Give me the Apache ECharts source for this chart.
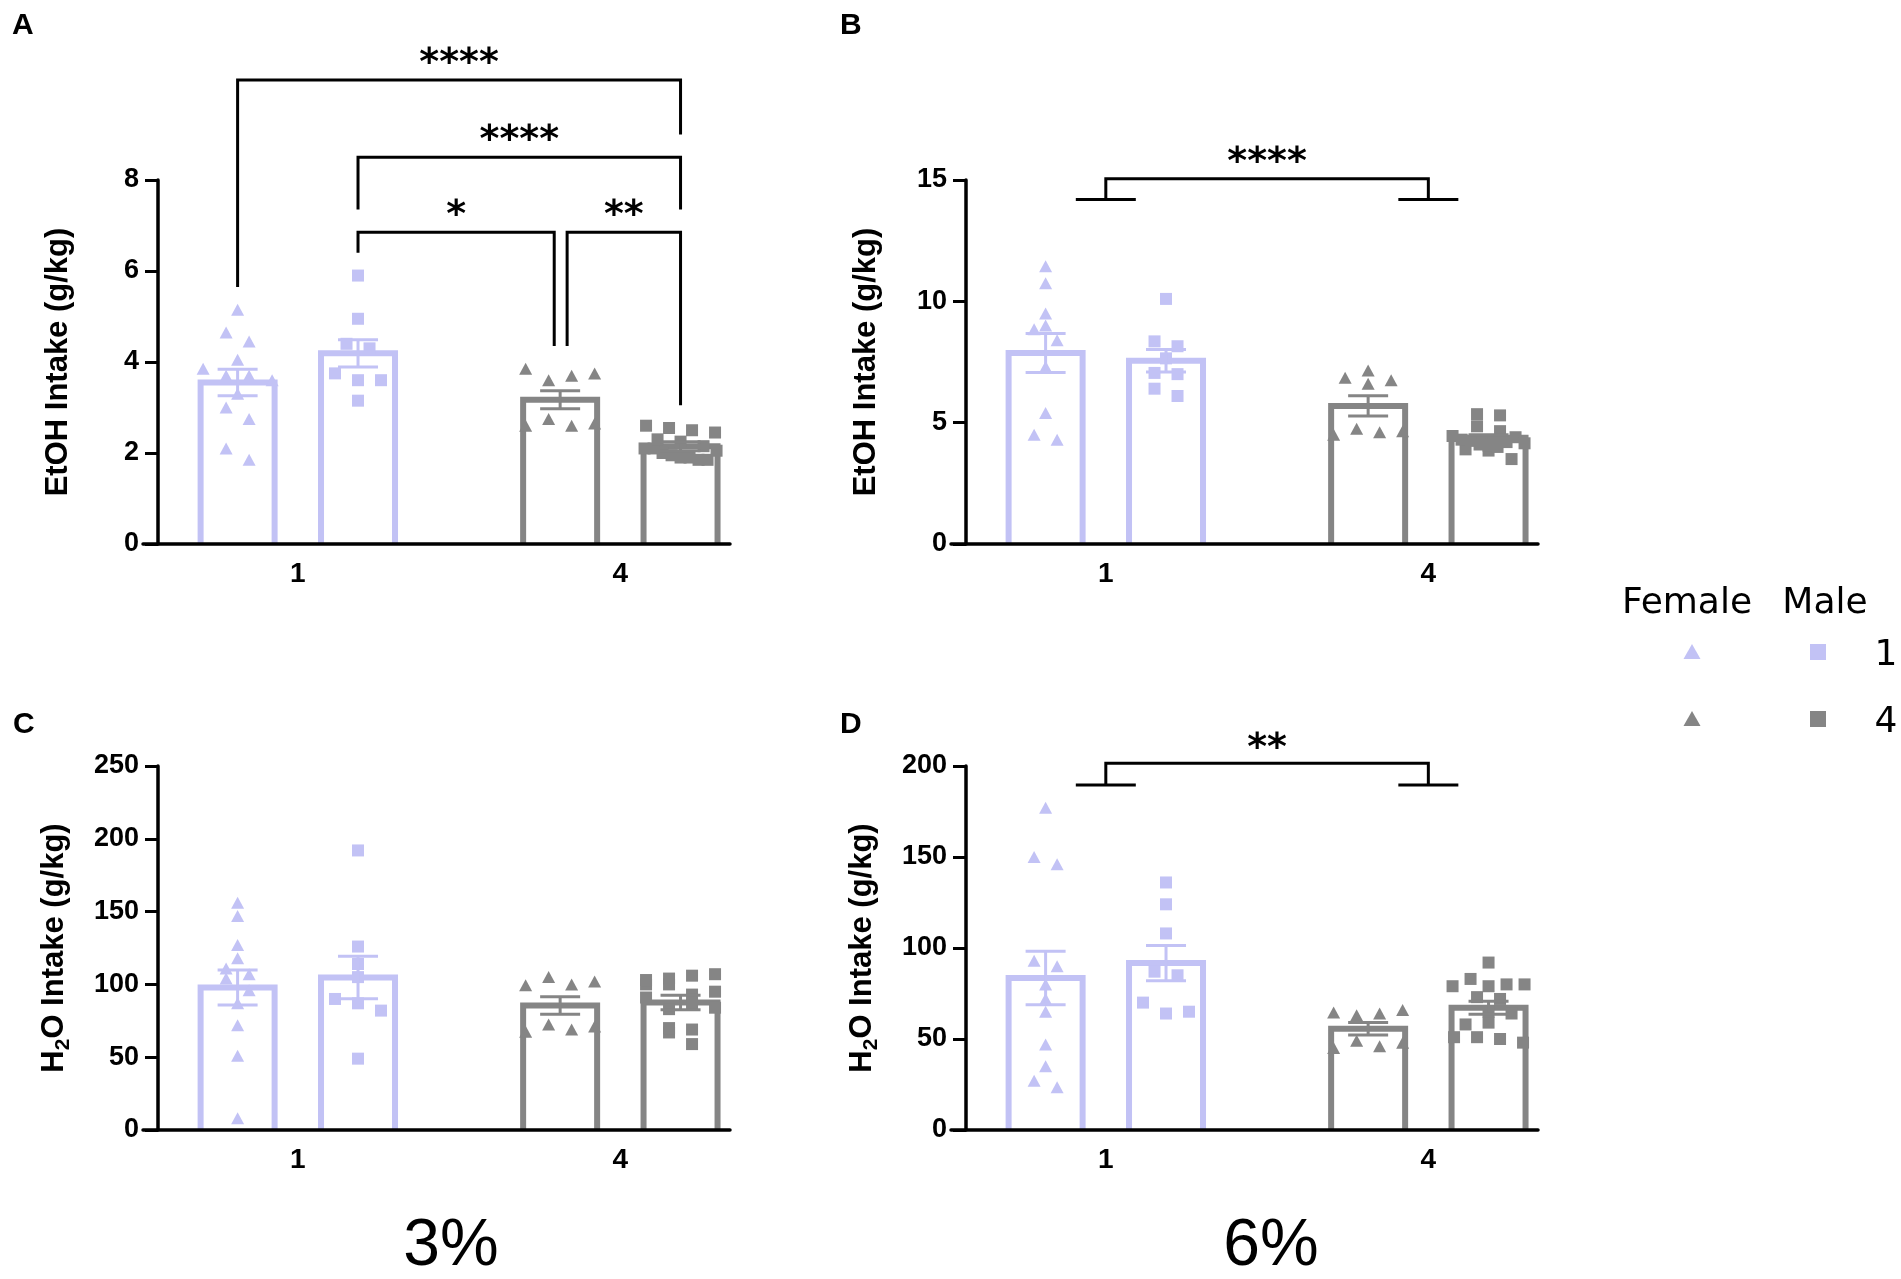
<!DOCTYPE html>
<html>
<head>
<meta charset="utf-8">
<script src="https://cdn.jsdelivr.net/npm/echarts@6/dist/echarts.min.js"></script>
<style>
html, body { margin: 0; padding: 0; background: #fff; }
#chart { width: 1901px; height: 1279px; }
</style>
</head>
<body>
<div id="chart"></div>
<script>
// categories
var weeks = [1, 4];
var sexes = ['Female', 'Male'];
var concentrations = ['3%', '6%'];
var panelLetters = ['A', 'B', 'C', 'D'];

// A: EtOH intake, 3%  (groups: female 1, male 1, female 4, male 4)
var a_f1 = [5.15, 4.65, 4.45, 4.05, 3.85, 3.7, 3.7, 3.6, 3.3, 3.0, 2.75, 2.1, 1.85];
var a_m1 = [5.9, 4.95, 4.4, 4.3, 3.75, 3.6, 3.6, 3.15];
var a_f4 = [3.85, 3.6, 3.7, 3.75, 2.6, 2.75, 2.6, 2.65];
var a_m4 = [2.6, 2.55, 2.5, 2.45, 2.3, 2.25, 2.15, 2.1, 2.1, 2.0, 1.95, 1.9, 1.9, 1.85, 1.85, 2.05];
var a_mean = [3.55, 4.19, 3.17, 2.15];
var a_sem = [0.29, 0.3, 0.2, 0.1];

// B: EtOH intake, 6%
var b_f1 = [11.45, 10.75, 9.5, 9.0, 8.85, 8.4, 7.3, 5.4, 4.5, 4.3];
var b_m1 = [10.1, 8.35, 8.15, 7.65, 7.05, 7.0, 6.4, 6.1];
var b_f4 = [6.85, 7.15, 6.6, 6.75, 4.5, 4.75, 4.6, 4.65];
var b_m4 = [5.35, 5.3, 4.85, 4.65, 4.45, 4.3, 4.25, 4.1, 4.05, 4.0, 3.9, 3.85, 3.5, 4.2, 4.4, 4.15];
var b_mean = [7.87, 7.55, 5.69, 4.38];
var b_sem = [0.8, 0.46, 0.42, 0.12];

// C: H2O intake, 3%
var c_f1 = [156, 147, 127, 118, 111, 107, 104, 96, 87, 72, 51, 8];
var c_m1 = [192, 126, 114, 105, 90, 87, 82, 49];
var c_f4 = [99.5, 105, 100, 102, 67.5, 72.5, 69, 71];
var c_m4 = [100, 103, 104, 106, 107, 100, 93, 91, 95, 83, 86, 84, 70, 69, 67, 59];
var c_mean = [97.9, 104.7, 85.5, 87.6];
var c_sem = [12, 14.6, 6, 5];

// D: H2O intake, 6%
var d_f1 = [177, 150, 146, 93, 90, 80, 72, 65, 47, 35, 27, 23.5];
var d_m1 = [136, 124, 108, 87, 85, 70, 64, 65];
var d_f4 = [64.5, 63, 64, 66, 45, 49, 46, 48];
var d_m4 = [92, 79, 83, 79, 80, 80, 73, 72, 65, 58, 51, 51, 50, 48, 59, 64];
var d_mean = [83.5, 91.7, 55.6, 67.2];
var d_sem = [14.7, 9.7, 3.4, 3.6];

// significance brackets: [x1, x2, yTop, yLeftEnd, yRightEnd, yText, kind]
var a_brackets = [
    [0.44, 4.56, 10.2, 5.65, 9.0, 10.75, 0],
    [1.56, 4.56, 8.5, 7.35, 7.35, 9.05, 0],
    [1.56, 3.385, 6.85, 6.4, 4.35, 7.4, 0],
    [3.505, 4.56, 6.85, 4.35, 3.05, 7.4, 0]
];
var a_stars = ['****', '****', '*', '**'];
var b_brackets = [[1, 4, 15.05, 14.2, 14.2, 16.05, 1]];
var b_stars = ['****'];
var c_brackets = [];
var c_stars = [];
var d_brackets = [[1, 4, 201.5, 189.5, 189.5, 214, 1]];
var d_stars = ['**'];

var LAV = '#c2c2f5';
var GRAY = '#858585';
var FONT = '"Liberation Sans", Arial, sans-serif';
var groupColor = [LAV, LAV, GRAY, GRAY];
var groupSymbol = ['triangle', 'rect', 'triangle', 'rect'];
var BAR_SHIFT = 0.56;
var groupX = [weeks[0] - BAR_SHIFT, weeks[0] + BAR_SHIFT, weeks[1] - BAR_SHIFT, weeks[1] + BAR_SHIFT];

var X_MIN = -0.44, X_MAX = 5.02;
var GRID_W = 587, GRID_H = 364;
var PX_X = GRID_W / (X_MAX - X_MIN);
var BAR_HALF = 37;
var CAP_HALF = 20;

var etohName = 'EtOH Intake (g/kg)';
var waterName = '{n|H}{s|2}{n|O Intake (g/kg)}';

var panels = [
    {left: 143, top: 180, yMax: 8, yInt: 2, name: etohName, pts: [a_f1, a_m1, a_f4, a_m4], mean: a_mean, sem: a_sem, br: a_brackets, stars: a_stars},
    {left: 951, top: 180, yMax: 15, yInt: 5, name: etohName, pts: [b_f1, b_m1, b_f4, b_m4], mean: b_mean, sem: b_sem, br: b_brackets, stars: b_stars},
    {left: 143, top: 766, yMax: 250, yInt: 50, name: waterName, pts: [c_f1, c_m1, c_f4, c_m4], mean: c_mean, sem: c_sem, br: c_brackets, stars: c_stars},
    {left: 951, top: 766, yMax: 200, yInt: 50, name: waterName, pts: [d_f1, d_m1, d_f4, d_m4], mean: d_mean, sem: d_sem, br: d_brackets, stars: d_stars}
];

// spread points sideways in rows, like a column scatter
function swarm(values, yMax, xCenter) {
    var pxY = GRID_H / yMax;
    var order = values.map(function (v, i) { return i; })
        .sort(function (a, b) { return values[a] - values[b]; });
    var rows = [], cur = null;
    order.forEach(function (i) {
        var py = values[i] * pxY;
        if (!cur || py - cur.start > 12) {
            cur = {start: py, items: []};
            rows.push(cur);
        }
        cur.items.push(i);
    });
    var out = [];
    rows.forEach(function (r) {
        var items = r.items.slice().sort(function (a, b) { return a - b; });
        var n = items.length;
        var step = n > 1 ? Math.min(23, 72 / (n - 1)) : 0;
        items.forEach(function (i, k) {
            var dx = (k - (n - 1) / 2) * step;
            out.push([xCenter + dx / PX_X, values[i]]);
        });
    });
    return out;
}

function renderBar(params, api) {
    var x = api.value(0), m = api.value(1), g = api.value(2);
    var top = api.coord([x, m]);
    var base = api.coord([x, 0]);
    return {
        type: 'polyline',
        shape: {points: [[top[0] - BAR_HALF, base[1]], [top[0] - BAR_HALF, top[1]],
                         [top[0] + BAR_HALF, top[1]], [top[0] + BAR_HALF, base[1]]]},
        style: {stroke: groupColor[g], lineWidth: 6, lineJoin: 'miter', fill: null}
    };
}

function renderError(params, api) {
    var x = api.value(0), m = api.value(1), s = api.value(2), g = api.value(3);
    var hi = api.coord([x, m + s]);
    var lo = api.coord([x, m - s]);
    var st = {stroke: groupColor[g], lineWidth: 3};
    return {
        type: 'group',
        children: [
            {type: 'line', shape: {x1: hi[0], y1: hi[1], x2: lo[0], y2: lo[1]}, style: st},
            {type: 'line', shape: {x1: hi[0] - CAP_HALF, y1: hi[1], x2: hi[0] + CAP_HALF, y2: hi[1]}, style: st},
            {type: 'line', shape: {x1: lo[0] - CAP_HALF, y1: lo[1], x2: lo[0] + CAP_HALF, y2: lo[1]}, style: st}
        ]
    };
}

function makeBracketRenderer(stars) {
    return function (params, api) {
        var x1 = api.value(0), x2 = api.value(1), yTop = api.value(2);
        var yL = api.value(3), yR = api.value(4), yT = api.value(5), kind = api.value(6);
        var pL = api.coord([x1, yL]), pTL = api.coord([x1, yTop]);
        var pTR = api.coord([x2, yTop]), pR = api.coord([x2, yR]);
        var pT = api.coord([(x1 + x2) / 2, yT]);
        var st = {stroke: '#000', lineWidth: 3, fill: null, lineJoin: 'miter'};
        var children = [
            {type: 'polyline', shape: {points: [pL, pTL, pTR, pR]}, style: st}
        ];
        if (kind === 1) {
            children.push({type: 'line', shape: {x1: pL[0] - 30, y1: pL[1], x2: pL[0] + 30, y2: pL[1]}, style: st});
            children.push({type: 'line', shape: {x1: pR[0] - 30, y1: pR[1], x2: pR[0] + 30, y2: pR[1]}, style: st});
        }
        children.push({
            type: 'text', x: pT[0], y: pT[1] + 9,
            style: {text: stars[params.dataIndex], fontSize: 38, fontWeight: 'bold',
                    fontFamily: '"DejaVu Sans"', fill: '#000', align: 'center', verticalAlign: 'middle'}
        });
        return {type: 'group', children: children};
    };
}

var grids = [], xAxes = [], yAxes = [], series = [];
panels.forEach(function (p, i) {
    grids.push({left: p.left, top: p.top, width: GRID_W, height: GRID_H});
    xAxes.push({
        type: 'value', gridIndex: i, min: X_MIN, max: X_MAX, z: 10,
        axisLine: {onZero: false, lineStyle: {color: '#000', width: 3.5}},
        axisTick: {show: false},
        splitLine: {show: false},
        axisLabel: {customValues: weeks, formatter: function (v) { return String(v); },
                    color: '#000', fontSize: 28, fontWeight: 'bold', fontFamily: FONT, margin: 16}
    });
    yAxes.push({
        type: 'value', gridIndex: i, min: 0, max: p.yMax, interval: p.yInt, offset: -15, z: 10,
        axisLine: {show: true, onZero: false, lineStyle: {color: '#000', width: 3.5}},
        axisTick: {show: true, length: 13, lineStyle: {color: '#000', width: 3}},
        splitLine: {show: false},
        axisLabel: {color: '#000', fontSize: 27, fontWeight: 'bold', fontFamily: FONT, margin: 19},
        name: p.name, nameLocation: 'middle', nameGap: 84,
        nameTextStyle: {
            color: '#000', fontSize: 31, fontWeight: 'bold', fontFamily: FONT,
            rich: {
                n: {fontSize: 31, fontWeight: 'bold', fontFamily: FONT, color: '#000', lineHeight: 40, verticalAlign: 'middle'},
                s: {fontSize: 21, fontWeight: 'bold', fontFamily: FONT, color: '#000', lineHeight: 40, verticalAlign: 'bottom'}
            }
        }
    });
    series.push({
        type: 'custom', xAxisIndex: i, yAxisIndex: i, z: 2, silent: true,
        encode: {x: 0, y: 1}, renderItem: renderBar,
        data: p.mean.map(function (m, g) { return [groupX[g], m, g]; })
    });
    p.pts.forEach(function (vals, g) {
        series.push({
            type: 'scatter', xAxisIndex: i, yAxisIndex: i, z: 3, silent: true,
            symbol: groupSymbol[g], symbolSize: g % 2 ? 12 : [13, 12],
            itemStyle: {color: groupColor[g], opacity: 1},
            data: swarm(vals, p.yMax, groupX[g])
        });
    });
    series.push({
        type: 'custom', xAxisIndex: i, yAxisIndex: i, z: 4, silent: true,
        encode: {x: 0, y: 1}, renderItem: renderError,
        data: p.mean.map(function (m, g) { return [groupX[g], m, p.sem[g], g]; })
    });
    if (p.br.length) {
        series.push({
            type: 'custom', xAxisIndex: i, yAxisIndex: i, z: 5, silent: true, clip: false,
            encode: {x: 0, y: 2}, renderItem: makeBracketRenderer(p.stars),
            data: p.br
        });
    }
});

// panel letters, concentration labels, legend
var graphics = [];
var letterPos = [[12, 26], [840, 26], [13, 725], [840, 725]];
panelLetters.forEach(function (t, i) {
    graphics.push({type: 'text', x: letterPos[i][0], y: letterPos[i][1],
        style: {text: t, fontSize: 30, fontWeight: 'bold', fontFamily: FONT, fill: '#000', align: 'left', verticalAlign: 'middle'}});
});
var concX = [451, 1271];
concentrations.forEach(function (t, i) {
    graphics.push({type: 'text', x: concX[i], y: 1247,
        style: {text: t, fontSize: 66, fontFamily: FONT, fill: '#000', align: 'center', verticalAlign: 'middle'}});
});
var legColX = [1692, 1818], legHeadX = [1687, 1825], legRowY = [652, 719];
sexes.forEach(function (s, c) {
    graphics.push({type: 'text', x: legHeadX[c], y: 604,
        style: {text: s, fontSize: 36, fontFamily: '"DejaVu Sans"', fill: '#000', align: 'center', verticalAlign: 'middle'}});
});
weeks.forEach(function (w, r) {
    var col = r === 0 ? LAV : GRAY;
    var cy = legRowY[r];
    graphics.push({type: 'polygon', shape: {points: [[legColX[0], cy - 8], [legColX[0] + 8.5, cy + 7], [legColX[0] - 8.5, cy + 7]]},
        style: {fill: col}});
    graphics.push({type: 'rect', shape: {x: legColX[1] - 8, y: cy - 8, width: 16, height: 16}, style: {fill: col}});
    graphics.push({type: 'text', x: 1886, y: cy + 4,
        style: {text: String(w), fontSize: 36, fontFamily: '"DejaVu Sans"', fill: '#000', align: 'center', verticalAlign: 'middle'}});
});

var chart = echarts.init(document.getElementById('chart'));
chart.setOption({
    animation: false,
    backgroundColor: '#fff',
    grid: grids,
    xAxis: xAxes,
    yAxis: yAxes,
    series: series,
    graphic: graphics
});
</script>
</body>
</html>
